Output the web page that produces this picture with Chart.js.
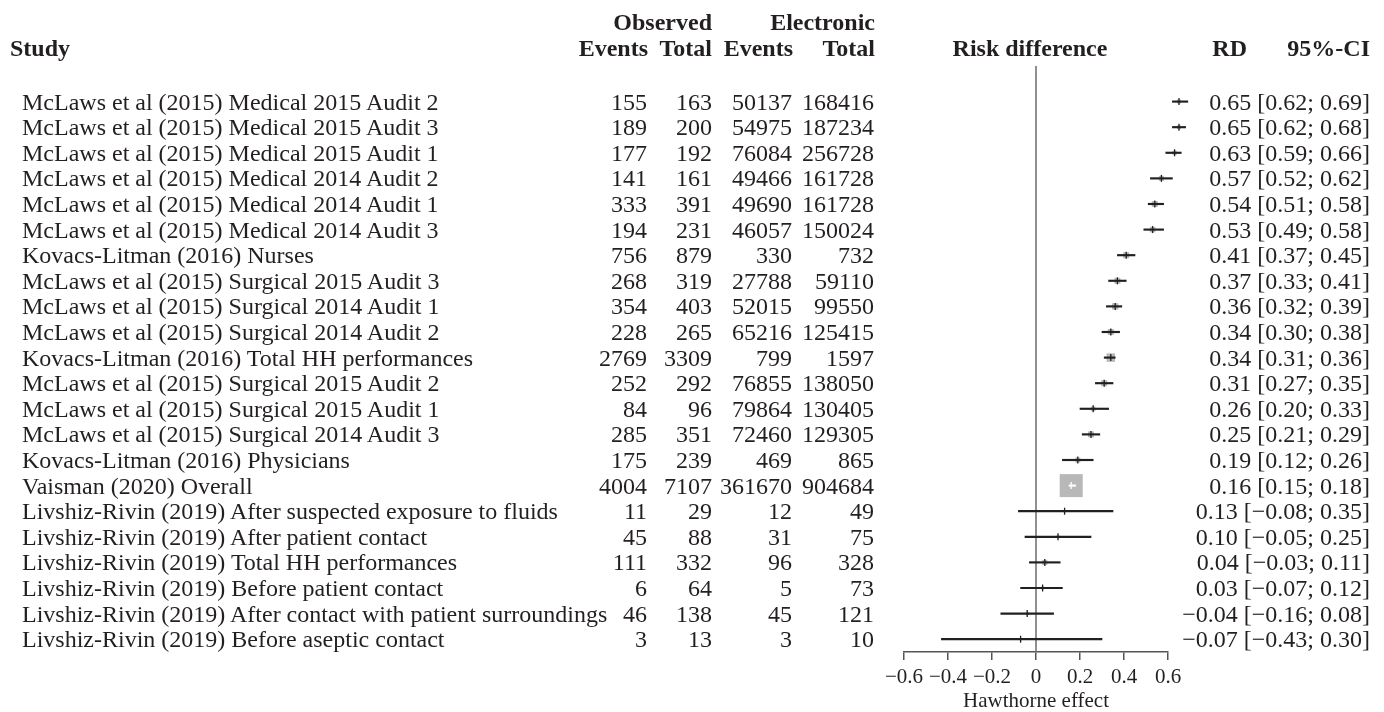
<!DOCTYPE html>
<html>
<head>
<meta charset="utf-8">
<script src="https://cdn.jsdelivr.net/npm/chart.js@4.4.1/dist/chart.umd.min.js"></script>
<style>
  html, body { margin: 0; padding: 0; background: #fff; }
  #wrap { position: relative; width: 1384px; height: 712px; font-family: "Liberation Serif", "Times New Roman", serif; color: #231f20; }
  #forest { position: absolute; left: 0; top: 0; }
  .t { position: absolute; font-size: 24px; line-height: 24px; white-space: nowrap; }
  .b { font-weight: bold; }
</style>
</head>
<body>
<div id="wrap"><canvas id="forest" width="1384" height="712"></canvas></div>
<script>
// study rows, top to bottom
const studies = [
    "McLaws et al (2015) Medical 2015 Audit 2",
    "McLaws et al (2015) Medical 2015 Audit 3",
    "McLaws et al (2015) Medical 2015 Audit 1",
    "McLaws et al (2015) Medical 2014 Audit 2",
    "McLaws et al (2015) Medical 2014 Audit 1",
    "McLaws et al (2015) Medical 2014 Audit 3",
    "Kovacs-Litman (2016) Nurses",
    "McLaws et al (2015) Surgical 2015 Audit 3",
    "McLaws et al (2015) Surgical 2014 Audit 1",
    "McLaws et al (2015) Surgical 2014 Audit 2",
    "Kovacs-Litman (2016) Total HH performances",
    "McLaws et al (2015) Surgical 2015 Audit 2",
    "McLaws et al (2015) Surgical 2015 Audit 1",
    "McLaws et al (2015) Surgical 2014 Audit 3",
    "Kovacs-Litman (2016) Physicians",
    "Vaisman (2020) Overall",
    "Livshiz-Rivin (2019) After suspected exposure to fluids",
    "Livshiz-Rivin (2019) After patient contact",
    "Livshiz-Rivin (2019) Total HH performances",
    "Livshiz-Rivin (2019) Before patient contact",
    "Livshiz-Rivin (2019) After contact with patient surroundings",
    "Livshiz-Rivin (2019) Before aseptic contact"
];
const obsEvents = [155, 189, 177, 141, 333, 194, 756, 268, 354, 228, 2769, 252, 84, 285, 175, 4004, 11, 45, 111, 6, 46, 3];
const obsTotal = [163, 200, 192, 161, 391, 231, 879, 319, 403, 265, 3309, 292, 96, 351, 239, 7107, 29, 88, 332, 64, 138, 13];
const elecEvents = [50137, 54975, 76084, 49466, 49690, 46057, 330, 27788, 52015, 65216, 799, 76855, 79864, 72460, 469, 361670, 12, 31, 96, 5, 45, 3];
const elecTotal = [168416, 187234, 256728, 161728, 161728, 150024, 732, 59110, 99550, 125415, 1597, 138050, 130405, 129305, 865, 904684, 49, 75, 328, 73, 121, 10];
const rd = [0.65, 0.65, 0.63, 0.57, 0.54, 0.53, 0.41, 0.37, 0.36, 0.34, 0.34, 0.31, 0.26, 0.25, 0.19, 0.16, 0.13, 0.10, 0.04, 0.03, -0.04, -0.07];
const ciLow = [0.62, 0.62, 0.59, 0.52, 0.51, 0.49, 0.37, 0.33, 0.32, 0.30, 0.31, 0.27, 0.20, 0.21, 0.12, 0.15, -0.08, -0.05, -0.03, -0.07, -0.16, -0.43];
const ciHigh = [0.69, 0.68, 0.66, 0.62, 0.58, 0.58, 0.45, 0.41, 0.39, 0.38, 0.36, 0.35, 0.33, 0.29, 0.26, 0.18, 0.35, 0.25, 0.11, 0.12, 0.08, 0.30];
// estimated study weights (%), used for the box sizes
const weights = [1.5, 1.5, 1.8, 2.5, 3.5, 3.0, 3.5, 3.5, 4.0, 3.5, 7.0, 3.5, 2.0, 3.5, 2.5, 52, 0.6, 0.9, 2.5, 0.9, 0.9, 0.4];
const xTicks = [-0.6, -0.4, -0.2, 0, 0.2, 0.4, 0.6];

const W = 1384;
const ink = "#231f20";
const maxW = Math.max(...weights);
const boxSide = i => 23 * Math.sqrt(weights[i] / maxW);

function fmt(v) {
    if (Math.abs(v) < 1e-9) return "0";
    return (v < 0 ? "\u2212" : "") + Math.abs(v).toFixed(2);
}
function tickFmt(v) {
    if (Math.abs(v) < 1e-9) return "0";
    return (v < 0 ? "\u2212" : "") + Math.abs(v).toFixed(1);
}

// CI line is white when it sits inside its box
function insideBox(chart, i) {
    const x = chart.scales.x;
    return boxSide(i) > x.getPixelForValue(ciHigh[i]) - x.getPixelForValue(ciLow[i]);
}

const rows = studies.map((_, i) => i);

const zeroLine = {
    id: "zeroLine",
    beforeDatasetsDraw(chart) {
        const { ctx, chartArea, scales } = chart;
        const x0 = scales.x.getPixelForValue(0);
        ctx.save();
        ctx.strokeStyle = "#6b6b6b";
        ctx.lineWidth = 1.5;
        ctx.beginPath();
        ctx.moveTo(x0, chartArea.top);
        ctx.lineTo(x0, chartArea.bottom);
        ctx.stroke();
        ctx.restore();
    }
};

// studies past 0.6 still get their box and tick drawn (points outside the area are skipped otherwise)
const looseArea = {
    id: "looseArea",
    beforeDatasetsDraw(chart) {
        this._area = chart.chartArea;
        chart.chartArea = Object.assign({}, this._area, { right: this._area.right + 60 });
    },
    afterDatasetsDraw(chart) {
        chart.chartArea = this._area;
    }
};

const chart = new Chart(document.getElementById("forest"), {
    type: "scatter",
    data: {
        datasets: [
            {
                type: "scatter",
                label: "estimate",
                order: 1,
                clip: false,
                data: rows.map(i => ({ x: rd[i], y: i })),
                pointStyle: "line",
                rotation: 90,
                pointRadius: 3.5,
                borderWidth: 1.3,
                borderColor: c => insideBox(c.chart, c.dataIndex) ? "#ffffff" : ink
            },
            {
                type: "bar",
                label: "95%-CI",
                order: 2,
                clip: false,
                indexAxis: "y",
                data: rows.map(i => ({ y: i, x: [ciLow[i], ciHigh[i]] })),
                barThickness: 1.5,
                borderWidth: 0,
                backgroundColor: c => insideBox(c.chart, c.dataIndex) ? "#ffffff" : ink
            },
            {
                type: "scatter",
                label: "weight",
                order: 3,
                clip: false,
                data: rows.map(i => ({ x: rd[i], y: i })),
                pointStyle: "rect",
                pointRadius: c => boxSide(c.dataIndex) / Math.SQRT2,
                borderWidth: 0,
                backgroundColor: "#b8b8b8"
            }
        ]
    },
    options: {
        responsive: false,
        animation: false,
        events: [],
        layout: { padding: { left: 904, right: W - 1168, top: 66, bottom: 0 } },
        plugins: { legend: { display: false }, tooltip: { enabled: false } },
        scales: {
            x: {
                type: "linear",
                min: -0.6,
                max: 0.6,
                afterBuildTicks: axis => { axis.ticks = xTicks.map(v => ({ value: v })); },
                afterFit: axis => { axis.height = 60; },
                grid: { drawOnChartArea: false, drawTicks: true, tickLength: 8, color: "#555", lineWidth: 1.5 },
                border: { display: true, color: "#555", width: 1.5 },
                ticks: {
                    callback: v => tickFmt(v),
                    color: ink,
                    padding: 7,
                    maxRotation: 0,
                    font: { family: "'Liberation Serif', serif", size: 21, lineHeight: 1.0 }
                },
                title: {
                    display: true,
                    text: "Hawthorne effect",
                    color: ink,
                    padding: { top: 0, bottom: 0 },
                    font: { family: "'Liberation Serif', serif", size: 21, lineHeight: 1.0 }
                }
            },
            y: {
                type: "linear",
                display: false,
                reverse: true,
                offset: false,
                min: -1.39,
                max: 21.5
            }
        }
    },
    plugins: [zeroLine, looseArea]
});

// table text, placed on the chart's own row positions
const wrap = document.getElementById("wrap");
const yAt = v => chart.scales.y.getPixelForValue(v);

function put(text, x, y, align, bold) {
    const d = document.createElement("div");
    d.className = "t" + (bold ? " b" : "");
    d.textContent = text;
    d.style.top = (y - 12) + "px";
    if (align === "right") {
        d.style.right = (W - x) + "px";
    } else if (align === "center") {
        d.style.left = (x - 200) + "px";
        d.style.width = "400px";
        d.style.textAlign = "center";
    } else {
        d.style.left = x + "px";
    }
    wrap.appendChild(d);
}

const h1 = yAt(-3.1), h2 = yAt(-2.1);
put("Observed", 712, h1, "right", true);
put("Electronic", 875, h1, "right", true);
put("Study", 10, h2, "left", true);
put("Events", 648, h2, "right", true);
put("Total", 712, h2, "right", true);
put("Events", 793, h2, "right", true);
put("Total", 875, h2, "right", true);
put("Risk difference", 1030, h2, "center", true);
put("RD", 1247, h2, "right", true);
put("95%-CI", 1370, h2, "right", true);

rows.forEach(i => {
    const y = yAt(i);
    put(studies[i], 22, y, "left");
    put(String(obsEvents[i]), 647, y, "right");
    put(String(obsTotal[i]), 712, y, "right");
    put(String(elecEvents[i]), 792, y, "right");
    put(String(elecTotal[i]), 874, y, "right");
    put(fmt(rd[i]) + " [" + fmt(ciLow[i]) + "; " + fmt(ciHigh[i]) + "]", 1370, y, "right");
});
</script>
</body>
</html>
